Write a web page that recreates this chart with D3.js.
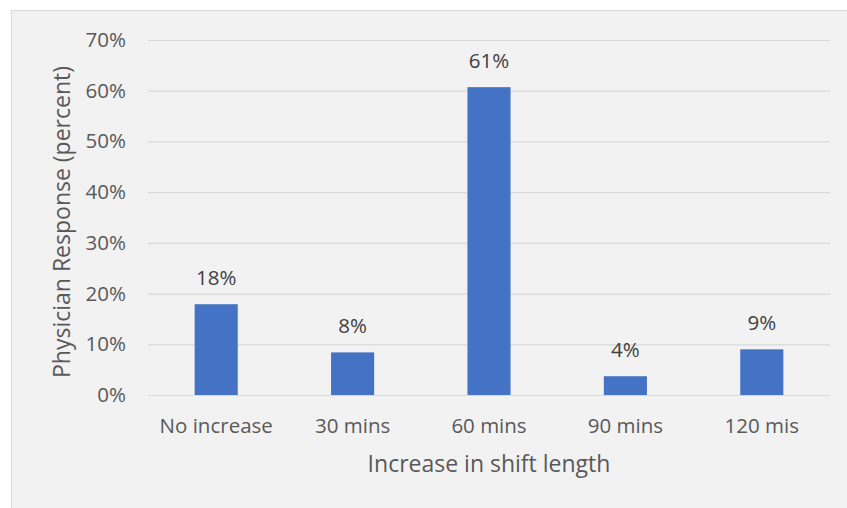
<!DOCTYPE html>
<html>
<head>
<meta charset="utf-8">
<script src="https://cdn.jsdelivr.net/npm/d3@7"></script>
<style>
  html, body { margin: 0; padding: 0; background: #ffffff; }
  svg { display: block; }
  text { font-family: "Open Sans", "Noto Sans", sans-serif; fill: #595959; }
</style>
</head>
<body>
<svg id="chart" width="847" height="508"></svg>
<script>
// Survey responses: how much longer physicians would work per shift
const categories = ["No increase", "30 mins", "60 mins", "90 mins", "120 mis"];
const responses = [0.179, 0.084, 0.607, 0.037, 0.090];
const yTicks = [0, 0.1, 0.2, 0.3, 0.4, 0.5, 0.6, 0.7];
const xTitle = "Increase in shift length";
const yTitle = "Physician Response (percent)";

const svg = d3.select("#chart");
const W = 847, H = 508;
const plot = { left: 148, right: 830, top: 40, bottom: 395 };
const labelSize = 20.5, titleSize = 23;

// Chart panel background with its thin border
svg.append("rect")
  .attr("x", 11.5).attr("y", 10.5)
  .attr("width", W).attr("height", H)
  .attr("fill", "#f2f2f2")
  .attr("stroke", "#d9d9d9").attr("stroke-width", 1);

const x = d3.scaleBand().domain(categories).range([plot.left, plot.right]).padding(0);
const y = d3.scaleLinear().domain([0, 0.7]).range([plot.bottom, plot.top]);
const barW = x.bandwidth() * 0.316;
const pct = d3.format(".0%");

// Horizontal gridlines and tick labels
const yAxis = d3.axisLeft(y).tickValues(yTicks).tickFormat(pct)
  .tickSize(-(plot.right - plot.left)).tickPadding(22);
const gy = svg.append("g").attr("transform", `translate(${plot.left},0)`).call(yAxis);
gy.select(".domain").remove();
gy.selectAll(".tick line").attr("stroke", "#d9d9d9").attr("stroke-width", 1.2);
gy.selectAll(".tick text").attr("font-size", labelSize).style("fill", "#595959")
  .attr("font-family", "'Open Sans', sans-serif");

// Category labels
const xAxis = d3.axisBottom(x).tickSize(0).tickPadding(23.5);
const gx = svg.append("g").attr("transform", `translate(0,${plot.bottom})`).call(xAxis);
gx.select(".domain").remove();
gx.selectAll(".tick text").attr("font-size", labelSize).style("fill", "#595959")
  .attr("font-family", "'Open Sans', sans-serif");

// Bars
svg.append("g").selectAll("rect")
  .data(responses)
  .join("rect")
  .attr("x", (d, i) => x(categories[i]) + (x.bandwidth() - barW) / 2)
  .attr("y", d => y(d))
  .attr("width", barW)
  .attr("height", d => y(0) - y(d))
  .attr("fill", "#4472c4");

// Value labels above bars
svg.append("g").selectAll("text")
  .data(responses)
  .join("text")
  .attr("x", (d, i) => x(categories[i]) + x.bandwidth() / 2)
  .attr("y", d => y(d) - 19)
  .attr("text-anchor", "middle")
  .attr("font-size", labelSize)
  .style("fill", "#404040")
  .text(d => pct(d));

// Axis titles
svg.append("text")
  .attr("x", (plot.left + plot.right) / 2)
  .attr("y", 472)
  .attr("text-anchor", "middle")
  .attr("font-size", titleSize)
  .text(xTitle);

svg.append("text")
  .attr("transform", `translate(70,222) rotate(-90)`)
  .attr("text-anchor", "middle")
  .attr("font-size", titleSize)
  .text(yTitle);
</script>
</body>
</html>
